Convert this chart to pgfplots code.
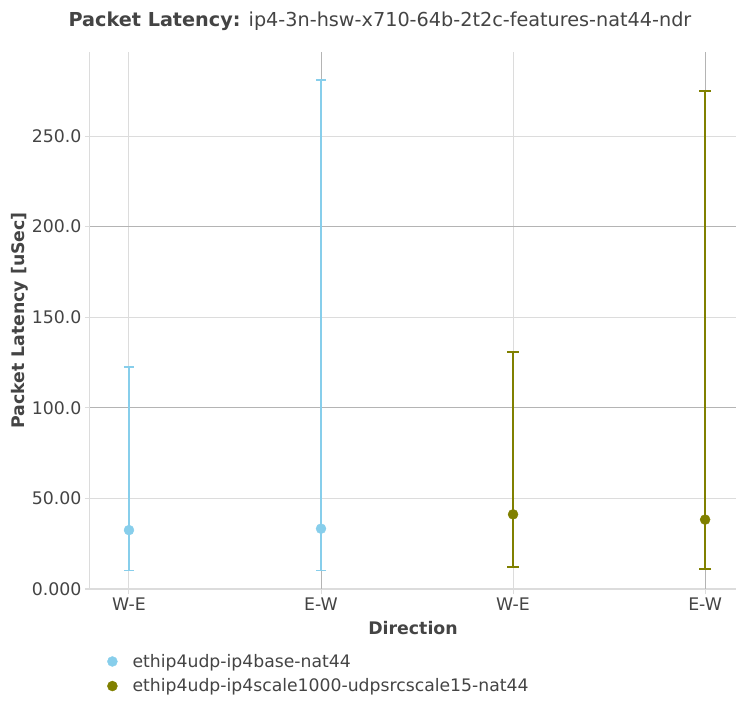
\documentclass[border=0pt]{standalone}
\usepackage{pgfplots}
\pgfplotsset{compat=1.18}
\usepackage{fontspec}
\setmainfont{DejaVu Sans}
\definecolor{txt}{HTML}{444444}
\definecolor{gridl}{HTML}{DCDCDC}
\definecolor{gridd}{HTML}{B4B4B4}
\definecolor{sky}{HTML}{87CEEB}
\definecolor{oli}{HTML}{808000}
\begin{document}
\begin{tikzpicture}[x=1bp,y=1bp]
\path[use as bounding box] (-90,-113) rectangle (646,589);
\begin{axis}[
  at={(0,0)}, anchor=south west,
  scale only axis, width=646bp, height=537bp,
  xmin=-0.203, xmax=3.161, ymin=0, ymax=296.4,
  axis lines*=left,
  axis line style={draw=gridl, line width=1bp},
  xtick={0,2}, xticklabels={W-E,W-E},
  extra x ticks={1,3}, extra x tick labels={E-W,E-W},
  extra x tick style={grid style={draw=gridd, line width=1bp}},
  ytick={0,50,150,250}, yticklabels={0.000,50.00,150.0,250.0},
  extra y ticks={100,200}, extra y tick labels={100.0,200.0},
  extra y tick style={grid style={draw=gridd, line width=1bp}},
  grid=major, grid style={draw=gridl, line width=1bp},
  tick style={draw=gridl, line width=1bp},
  tick align=outside, major tick length=5bp,
  ticklabel style={font=\fontsize{17.4}{20}\selectfont, text=txt},
  xlabel={Direction}, ylabel={Packet Latency [uSec]},
  every axis y label/.style={at={(axis description cs:-0.1084,0.5)}, rotate=90, anchor=center,
    font=\fontsize{17.4}{20}\selectfont\bfseries, text=txt},
  every axis x label/.style={at={(axis description cs:0.5,-0.0726)}, anchor=center,
    font=\fontsize{17.4}{20}\selectfont\bfseries, text=txt},
  legend style={at={(axis description cs:0.0217,-0.1136)}, anchor=north west, draw=none, fill=none,
    font=\fontsize{17.3}{20}\selectfont, text=txt, row sep=6bp},
  legend cell align=left,
  legend image code/.code={\draw[mark repeat=1,#1] plot coordinates {(0bp,0bp)}; \path (-5bp,0bp) (18bp,0bp);},
]
\addplot[only marks, mark=*, color=sky, mark size=5bp,
  error bars/.cd, y dir=both, y explicit,
  error bar style={line width=2bp, sky},
  error mark options={rotate=90, mark size=5bp, line width=1.5bp, sky}]
  coordinates {
  (0,32.5) += (0,90.1) -= (0,22.3)
  (1,33.3) += (0,247.5) -= (0,23.1)
};
\addlegendentry{ethip4udp-ip4base-nat44}
\addplot[only marks, mark=*, color=oli, mark size=5bp,
  error bars/.cd, y dir=both, y explicit,
  error bar style={line width=2bp, oli},
  error mark options={rotate=90, mark size=6bp, line width=2bp, oli}]
  coordinates {
  (2,41.2) += (0,89.6) -= (0,28.9)
  (3,38.3) += (0,236.3) -= (0,27.1)
};
\addlegendentry{ethip4udp-ip4scale1000-udpsrcscale15-nat44}
\end{axis}
\node[text=txt, font=\fontsize{19.3}{22}\selectfont] at (290,568) {\textbf{Packet Latency:} ip4-3n-hsw-x710-64b-2t2c-features-nat44-ndr};
\end{tikzpicture}
\end{document}
